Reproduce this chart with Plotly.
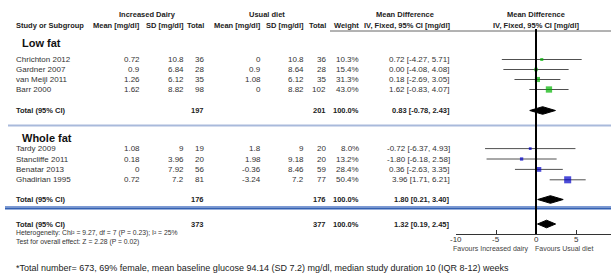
import plotly.graph_objects as go

W, H = 611, 278

# ---------------- data ----------------
studies_low = ["Chrichton 2012", "Gardner 2007", "van Meijl 2011", "Barr 2000"]
inc_mean_low = [0.72, 0.9, 1.26, 1.62]
inc_sd_low = [10.8, 6.84, 6.12, 8.82]
inc_n_low = [36, 28, 35, 98]
usu_mean_low = [0, 0.9, 1.08, 0]
usu_sd_low = [10.8, 8.64, 6.12, 8.82]
usu_n_low = [36, 28, 35, 102]
weight_low = [10.3, 15.4, 31.3, 43.0]
md_low = [0.72, 0.00, 0.18, 1.62]
lo_low = [-4.27, -4.08, -2.69, -0.83]
hi_low = [5.71, 4.08, 3.05, 4.07]
tot_n_low = [197, 201]
tot_md_low = [0.83, -0.78, 2.43]

studies_whole = ["Tardy 2009", "Stancliffe 2011", "Benatar 2013", "Ghadirian 1995"]
inc_mean_whole = [1.08, 0.18, 0, 0.72]
inc_sd_whole = [9, 3.96, 7.92, 7.2]
inc_n_whole = [19, 20, 56, 81]
usu_mean_whole = [1.8, 1.98, -0.36, -3.24]
usu_sd_whole = [9, 9.18, 8.46, 7.2]
usu_n_whole = [20, 20, 59, 77]
weight_whole = [8.0, 13.2, 28.4, 50.4]
md_whole = [-0.72, -1.80, 0.36, 3.96]
lo_whole = [-6.37, -6.18, -2.63, 1.71]
hi_whole = [4.93, 2.58, 3.35, 6.21]
tot_n_whole = [176, 176]
tot_md_whole = [1.80, 0.21, 3.40]

tot_n_all = [373, 377]
tot_md_all = [1.32, 0.19, 2.45]

tick_vals = [-10, -5, 0, 5, 10]
tick_text = ["-10", "-5", "0", "5", "10"]

# ---------------- layout helpers (pixel positions) ----------------
FONT = "Arial, Liberation Sans, sans-serif"
ann = []
shapes = []


def txt(s, px, py, anchor="left", size=8, bold=False, color="#333333"):
    ann.append(dict(text=f"<b>{s}</b>" if bold else s, x=px / W, y=1 - py / H,
                    xref="paper", yref="paper", xanchor=anchor, yanchor="middle",
                    showarrow=False, borderpad=0,
                    font=dict(family=FONT, size=size, color=color)))


def hline(py, x0, x1, color, width):
    shapes.append(dict(type="line", xref="paper", yref="paper",
                       x0=x0 / W, x1=x1 / W, y0=1 - py / H, y1=1 - py / H,
                       line=dict(color=color, width=width)))


def fmt(v):
    return f"{v:g}"


def ci(m, l, h):
    return f"{m:.2f} [{l:.2f}, {h:.2f}]"


# column right edges
C_IM, C_IS, C_IN = 141, 185, 205
C_UM, C_US, C_UN, C_W = 262, 305, 327, 360
C_MD = 451

# headers
HY1, HY2 = 14.5, 26
txt("Increased Dairy", 147, HY1, "center", 7.5, True, "#222")
txt("Usual diet", 267, HY1, "center", 7.5, True, "#222")
txt("Mean Difference", 405, HY1, "center", 7.5, True, "#222")
txt("Mean Difference", 536, HY1, "center", 7.5, True, "#222")
txt("Study or Subgroup", 15, HY2, "left", 7.5, True, "#222")
for s, x in [("Mean [mg/dl]", C_IM), ("SD [mg/dl]", C_IS), ("Total", C_IN),
             ("Mean [mg/dl]", C_UM), ("SD [mg/dl]", C_US), ("Total", C_UN),
             ("Weight", C_W), ("IV, Fixed, 95% CI [mg/dl]", C_MD)]:
    txt(s, x, HY2, "right", 7.5, True, "#222")
txt("IV, Fixed, 95% CI [mg/dl]", 536, HY2, "center", 7.5, True, "#222")
hline(31, 330, W, "#666666", 1)

# groups
y_low = [59.5 + 10 * i for i in range(4)]
y_whole = [148.6 + 10.4 * i for i in range(4)]
Y_TOT_LOW, Y_TOT_WHOLE, Y_TOT_ALL = 110.5, 199.5, 224

txt("Low fat", 21, 43, "left", 11, True, "#111")
txt("Whole fat", 21, 138, "left", 11, True, "#111")


def study_rows(names, im, isd, inn, um, usd, un, w, md, lo, hi, ys):
    for k in range(len(names)):
        y = ys[k]
        txt(names[k], 15, y)
        txt(fmt(im[k]), C_IM, y, "right")
        txt(fmt(isd[k]), C_IS, y, "right")
        txt(str(inn[k]), C_IN, y, "right")
        txt(fmt(um[k]), C_UM, y, "right")
        txt(fmt(usd[k]), C_US, y, "right")
        txt(str(un[k]), C_UN, y, "right")
        txt(f"{w[k]:.1f}%", C_W, y, "right")
        txt(ci(md[k], lo[k], hi[k]), C_MD, y, "right")


study_rows(studies_low, inc_mean_low, inc_sd_low, inc_n_low, usu_mean_low,
           usu_sd_low, usu_n_low, weight_low, md_low, lo_low, hi_low, y_low)
study_rows(studies_whole, inc_mean_whole, inc_sd_whole, inc_n_whole, usu_mean_whole,
           usu_sd_whole, usu_n_whole, weight_whole, md_whole, lo_whole, hi_whole, y_whole)


def total_row(y, n, md):
    txt("Total (95% CI)", 15, y, "left", 7.5, True, "#222")
    txt(str(n[0]), C_IN, y, "right", 7.5, True, "#222")
    txt(str(n[1]), C_UN, y, "right", 7.5, True, "#222")
    txt("100.0%", C_W, y, "right", 7.5, True, "#222")
    txt(ci(*md), C_MD, y, "right", 7.5, True, "#222")


total_row(Y_TOT_LOW, tot_n_low, tot_md_low)
total_row(Y_TOT_WHOLE, tot_n_whole, tot_md_whole)
total_row(Y_TOT_ALL, tot_n_all, tot_md_all)

hline(125.5, 8, W, "#a9badb", 2)
hline(206.8, 5, W, "#7d9ad4", 1.5)
hline(208.4, 5, W, "#3461b3", 2)

txt("Heterogeneity: Chi² = 9.27, df = 7 (P = 0.23); I² = 25%", 15, 233, "left", 6.8)
txt("Test for overall effect: Z = 2.28 (P = 0.02)", 15, 242, "left", 6.8)
txt("Favours Increased dairy", 530, 248.5, "right", 7, False, "#444")
txt("Favours Usual diet", 534, 248.5, "left", 7, False, "#444")
txt("*Total number= 673, 69% female, mean baseline glucose 94.14 (SD 7.2) mg/dl, "
    "median study duration 10 (IQR 8-12) weeks", 15, 268, "left", 9, False, "#222")

# ---------------- forest plot ----------------
AX_Y = 234  # pixel y of axis line
TICK_LABEL_Y = 239.5
fig = go.Figure()


def ci_lines(lo, hi, ys):
    xs, yy = [], []
    for l, h, y in zip(lo, hi, ys):
        xs += [l, h, None]
        yy += [y, y, None]
    fig.add_trace(go.Scatter(x=xs, y=yy, mode="lines",
                             line=dict(color="#505050", width=1),
                             hoverinfo="skip", showlegend=False))


def squares(md, w, ys, color):
    fig.add_trace(go.Scatter(x=md, y=ys, mode="markers",
                             marker=dict(symbol="square", color=color,
                                         size=[2 + 0.1 * v for v in w],
                                         line=dict(width=0)),
                             showlegend=False))


def diamond(md, y, h=3.8):
    m, l, r = md
    fig.add_trace(go.Scatter(x=[l, m, r, m, l], y=[y, y - h, y, y + h, y],
                             mode="lines", fill="toself", fillcolor="black",
                             line=dict(color="black", width=1),
                             showlegend=False, hoverinfo="skip"))


ci_lines(lo_low, hi_low, y_low)
ci_lines(lo_whole, hi_whole, y_whole)
squares(md_low, weight_low, y_low, "#00b400")
squares(md_whole, weight_whole, y_whole, "#0000c8")
diamond(tot_md_low, Y_TOT_LOW)
diamond(tot_md_whole, Y_TOT_WHOLE)
diamond(tot_md_all, Y_TOT_ALL)

shapes.append(dict(type="line", xref="x", yref="y", x0=0, x1=0, y0=29, y1=AX_Y,
                   line=dict(color="black", width=2), layer="above"))

x_left_px = 456
px_per_unit = 8.0
x_right_val = -10 + (W - x_left_px) / px_per_unit

# tick labels placed through the x axis scale (just under the axis line)
for v, t in zip(tick_vals, tick_text):
    if v <= x_right_val:
        ann.append(dict(text=t, x=v, xref="x", y=1 - TICK_LABEL_Y / H, yref="paper",
                        xanchor="center", yanchor="middle", showarrow=False,
                        borderpad=0, font=dict(family=FONT, size=8, color="#333333")))
    else:  # partly cut off by the right edge, as in the original
        px = x_left_px + (v + 10) * px_per_unit
        txt(t, px + 1, TICK_LABEL_Y, "center", 8)

fig.update_layout(
    width=W, height=H, margin=dict(l=0, r=0, t=0, b=0),
    paper_bgcolor="white", plot_bgcolor="rgba(0,0,0,0)",
    showlegend=False,
    xaxis=dict(domain=[x_left_px / W, 1], range=[-10, x_right_val],
               showgrid=False, zeroline=False, showline=True,
               linecolor="#333333", linewidth=1,
               ticks="inside", ticklen=4, tickcolor="#333333",
               tickvals=tick_vals, showticklabels=False,
               fixedrange=True),
    yaxis=dict(domain=[1 - AX_Y / H, 1], range=[AX_Y, 0], visible=False,
               showgrid=False, zeroline=False, fixedrange=True),
    annotations=ann, shapes=shapes,
)

fig.write_html("out.html", config={"displayModeBar": False},
               post_script="document.body.style.margin='0';document.body.style.overflow='hidden';")
